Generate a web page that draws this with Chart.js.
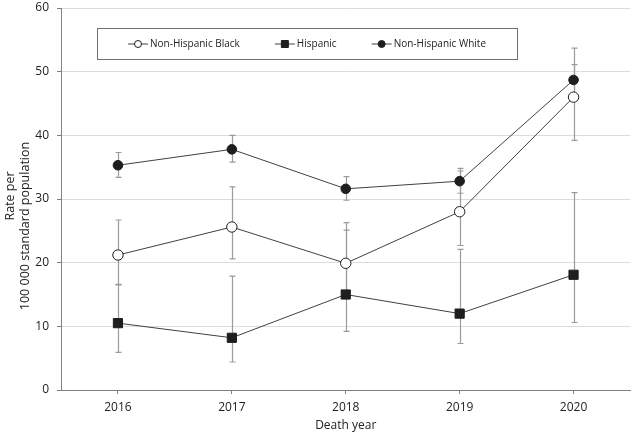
<!DOCTYPE html>
<html>
<head>
<meta charset="utf-8">
<script src="https://cdn.jsdelivr.net/npm/chart.js@4/dist/chart.umd.min.js"></script>
<style>
  html, body { margin: 0; padding: 0; background: #fff; }
  #wrap { width: 638px; height: 437px; }
</style>
</head>
<body>
<div id="wrap"><canvas id="chart"></canvas></div>
<script>
// --- data ---
const years = ['2016', '2017', '2018', '2019', '2020'];

const blackRate = [21.2, 25.6, 19.9, 28.0, 46.0];
const blackLow  = [16.6, 20.6, 14.6, 22.7, 39.2];
const blackHigh = [26.7, 31.9, 26.3, 34.4, 53.7];

const hispRate = [10.5, 8.2, 15.0, 12.0, 18.1];
const hispLow  = [5.9, 4.4, 9.2, 7.3, 10.6];
const hispHigh = [16.5, 17.9, 25.1, 22.1, 31.0];

const whiteRate = [35.3, 37.8, 31.6, 32.8, 48.7];
const whiteLow  = [33.4, 35.8, 29.8, 30.9, 46.3];
const whiteHigh = [37.3, 40.0, 33.5, 34.8, 51.1];

const seriesLabels = ['Non-Hispanic Black', 'Hispanic', 'Non-Hispanic White'];
const yTitle = ['Rate per', '100 000 standard population'];

const FONT = '"Open Sans", "DejaVu Sans", sans-serif';
const LINE = '#404040';
const MARK = '#1e1e1e';

const errorRanges = [[blackLow, blackHigh], [hispLow, hispHigh], [whiteLow, whiteHigh]];

// error bars behind the markers
const errorBars = {
    id: 'errorBars',
    beforeDatasetsDraw(chart) {
        const { ctx, scales: { x, y } } = chart;
        ctx.save();
        ctx.strokeStyle = '#9b9b9b';
        ctx.lineWidth = 1.2;
        errorRanges.forEach(([low, high]) => {
            low.forEach((lo, i) => {
                const px = Math.round(x.getPixelForValue(i)) + 0.5;
                const top = y.getPixelForValue(high[i]);
                const bot = y.getPixelForValue(lo);
                ctx.beginPath();
                ctx.moveTo(px, top); ctx.lineTo(px, bot);
                ctx.moveTo(px - 3, top); ctx.lineTo(px + 3, top);
                ctx.moveTo(px - 3, bot); ctx.lineTo(px + 3, bot);
                ctx.stroke();
            });
        });
        ctx.restore();
    }
};

// boxed legend inside the plot + two-line y title
const boxLegend = {
    id: 'boxLegend',
    afterDraw(chart) {
        const { ctx, chartArea } = chart;
        ctx.save();
        ctx.font = '10px ' + FONT;
        ctx.textBaseline = 'middle';
        const boxL = chartArea.left + 36, boxR = chartArea.left + 456;
        const boxT = chartArea.top + 20, boxB = chartArea.top + 51;
        ctx.strokeStyle = '#6e6e6e';
        ctx.lineWidth = 1;
        ctx.strokeRect(boxL + 0.5, boxT + 0.5, boxR - boxL, boxB - boxT);

        const symW = 20, gapTxt = 2, gapItem = 35;
        const widths = seriesLabels.map(t => symW + gapTxt + ctx.measureText(t).width);
        const total = widths.reduce((a, b) => a + b, 0) + gapItem * (widths.length - 1);
        let cx = (boxL + boxR) / 2 - total / 2;
        const cy = (boxT + boxB) / 2 + 0.5;
        chart.data.datasets.forEach((ds, i) => {
            ctx.strokeStyle = LINE;
            ctx.beginPath();
            ctx.moveTo(cx, cy); ctx.lineTo(cx + symW, cy);
            ctx.stroke();
            ctx.fillStyle = ds.pointBackgroundColor;
            ctx.strokeStyle = ds.pointBorderColor;
            ctx.beginPath();
            if (ds.pointStyle === 'rect') {
                ctx.rect(cx + symW / 2 - 3.5, cy - 3.5, 7, 7);
            } else {
                ctx.arc(cx + symW / 2, cy, 3.5, 0, Math.PI * 2);
            }
            ctx.fill(); ctx.stroke();
            ctx.fillStyle = '#222';
            ctx.textAlign = 'left';
            ctx.fillText(seriesLabels[i], cx + symW + gapTxt, cy);
            cx += widths[i] + gapItem;
        });

        // y axis title
        const mid = (chartArea.top + chartArea.bottom) / 2;
        ctx.font = '12.5px ' + FONT;
        ctx.textAlign = 'center';
        ctx.fillStyle = '#222';
        ctx.translate(10, mid - 3);
        ctx.rotate(-Math.PI / 2);
        ctx.fillText(yTitle[0], 0, 0);
        ctx.rotate(Math.PI / 2);
        ctx.translate(15, 30);
        ctx.rotate(-Math.PI / 2);
        ctx.fillText(yTitle[1], 0, 0);
        ctx.restore();
    }
};

function makeSeries(label, data, style, fill, radius) {
    return {
        label: label,
        data: data,
        borderColor: LINE,
        borderWidth: 1,
        pointStyle: style,
        pointRadius: radius,
        pointHoverRadius: radius,
        pointBackgroundColor: fill,
        pointBorderColor: MARK,
        pointBorderWidth: 1,
        tension: 0
    };
}

const ctx = document.getElementById('chart').getContext('2d');
new Chart(ctx, {
    type: 'line',
    data: {
        labels: years,
        datasets: [
            makeSeries(seriesLabels[0], blackRate, 'circle', '#ffffff', 5.2),
            makeSeries(seriesLabels[1], hispRate, 'rect', MARK, 6.5),
            makeSeries(seriesLabels[2], whiteRate, 'circle', MARK, 4.8)
        ]
    },
    options: {
        responsive: true,
        maintainAspectRatio: false,
        animation: false,
        layout: { padding: { top: 8, right: 5, left: 0, bottom: 0 } },
        plugins: { legend: { display: false }, tooltip: { enabled: false } },
        scales: {
            x: {
                offset: true,
                grid: { display: true, drawOnChartArea: false, offset: false, tickLength: 4, color: '#808080' },
                border: { color: '#808080' },
                ticks: { color: '#222', font: { family: FONT, size: 12 }, padding: 6 },
                title: { display: true, text: 'Death year', color: '#222', font: { family: FONT, size: 12 }, padding: { top: 2, bottom: 4 } },
                afterFit: s => { s.height = 47; }
            },
            y: {
                min: 0, max: 60,
                ticks: { stepSize: 10, color: '#222', font: { family: FONT, size: 12 }, padding: 8 },
                grid: { color: ctx => ctx.tick && ctx.tick.value === 0 ? 'rgba(0,0,0,0)' : '#dcdcdc', tickColor: '#808080', tickLength: 4 },
                border: { color: '#808080' },
                afterFit: s => { s.width = 61; s.paddingTop = 0; }
            }
        }
    },
    plugins: [errorBars, boxLegend]
});
</script>
</body>
</html>
